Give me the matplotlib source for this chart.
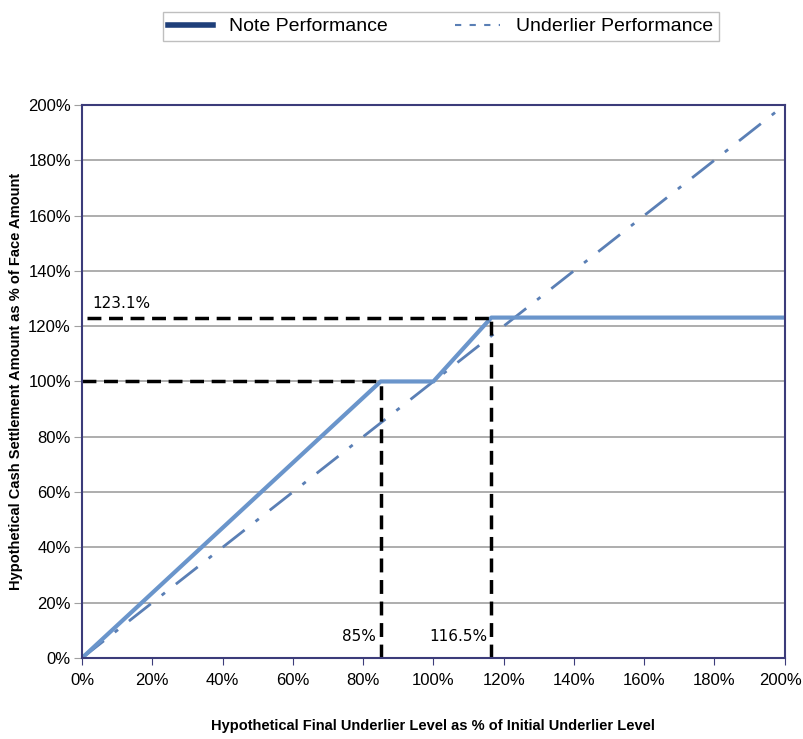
import matplotlib
matplotlib.use('Agg')
import matplotlib.pyplot as plt
import matplotlib.transforms as mtransforms
from matplotlib.lines import Line2D
from matplotlib.ticker import PercentFormatter

# payoff data (% of initial level -> % of face amount)
note_x = [0, 85, 100, 116.5, 200]
note_y = [0, 100, 100, 123.1, 123.1]
under_x = [0, 200]
under_y = [0, 200]

barrier_x = 85
cap_x = 116.5
cap_y = 123.1
par_y = 100

x_ticks = list(range(0, 201, 20))
y_ticks = list(range(0, 201, 20))

plt.rcParams['font.family'] = ['Liberation Sans', 'DejaVu Sans']

fig = plt.figure(figsize=(8.04, 7.39), dpi=100)
ax = fig.add_axes([0.102, 0.1096, 0.874, 0.7484])

line_col = '#6a95cb'
frame_col = '#3c3c7a'

ax.set_yticks(y_ticks)
ax.set_xticks(x_ticks)
ax.yaxis.grid(True, color='#a0a0a0', lw=1.2)
ax.set_axisbelow(True)

ax.plot(under_x, under_y, color='#5a7fb5', lw=2, dashes=[10, 5, 1.5, 5])
ax.plot(note_x, note_y, color=line_col, lw=3, solid_capstyle='butt')

dash = dict(color='black', lw=2.5, dashes=[4, 2.2])
ax.plot([0, barrier_x], [par_y, par_y], **dash)
ax.plot([barrier_x, barrier_x], [0, par_y], **dash)
ax.plot([1.5, cap_x], [cap_y, cap_y], **dash)
ax.plot([cap_x, cap_x], [0, cap_y], **dash)

ax.text(3, 125.5, '123.1%', fontsize=11, family=['DejaVu Sans'], va='bottom')
ax.text(83.5, 5, '85%', fontsize=11, family=['DejaVu Sans'], ha='right', va='bottom')
ax.text(115.5, 5, '116.5%', fontsize=11, family=['DejaVu Sans'], ha='right', va='bottom')

ax.set_xlim(0, 200)
ax.set_ylim(0, 200)
ax.xaxis.set_major_formatter(PercentFormatter(decimals=0))
ax.yaxis.set_major_formatter(PercentFormatter(decimals=0))
ax.tick_params(axis='y', length=6, color='#a0a0a0', labelsize=12, pad=2)
ax.tick_params(axis='x', length=5, color=frame_col, labelsize=12, pad=6)
for s in ax.spines.values():
    s.set_color(frame_col)
    s.set_linewidth(1.5)

# keep the last x label inside the canvas
last = ax.get_xticklabels()[-1]
last.set_transform(last.get_transform() +
                   mtransforms.ScaledTranslation(-4 / 100, 0, fig.dpi_scale_trans))

ax.set_xlabel('Hypothetical Final Underlier Level as % of Initial Underlier Level',
              fontsize=10.5, fontweight='bold', labelpad=22)
ax.set_ylabel('Hypothetical Cash Settlement Amount as % of Face Amount',
              fontsize=10.5, fontweight='bold', labelpad=4)

handles = [Line2D([], [], color='#1f3f7a', lw=4),
           Line2D([], [], color='#5a7fb5', lw=1.5, dashes=[3, 4])]
leg = fig.legend(handles, ['Note Performance', 'Underlier Performance'],
                 loc='upper center', bbox_to_anchor=(0.548, 0.997), ncol=2,
                 fontsize=14, frameon=True, fancybox=False, edgecolor='#b0b0b0',
                 handlelength=2.3, columnspacing=3.5, borderpad=0.3)
leg.get_frame().set_linewidth(1)

plt.savefig('out.png', dpi=100)
plt.close()
